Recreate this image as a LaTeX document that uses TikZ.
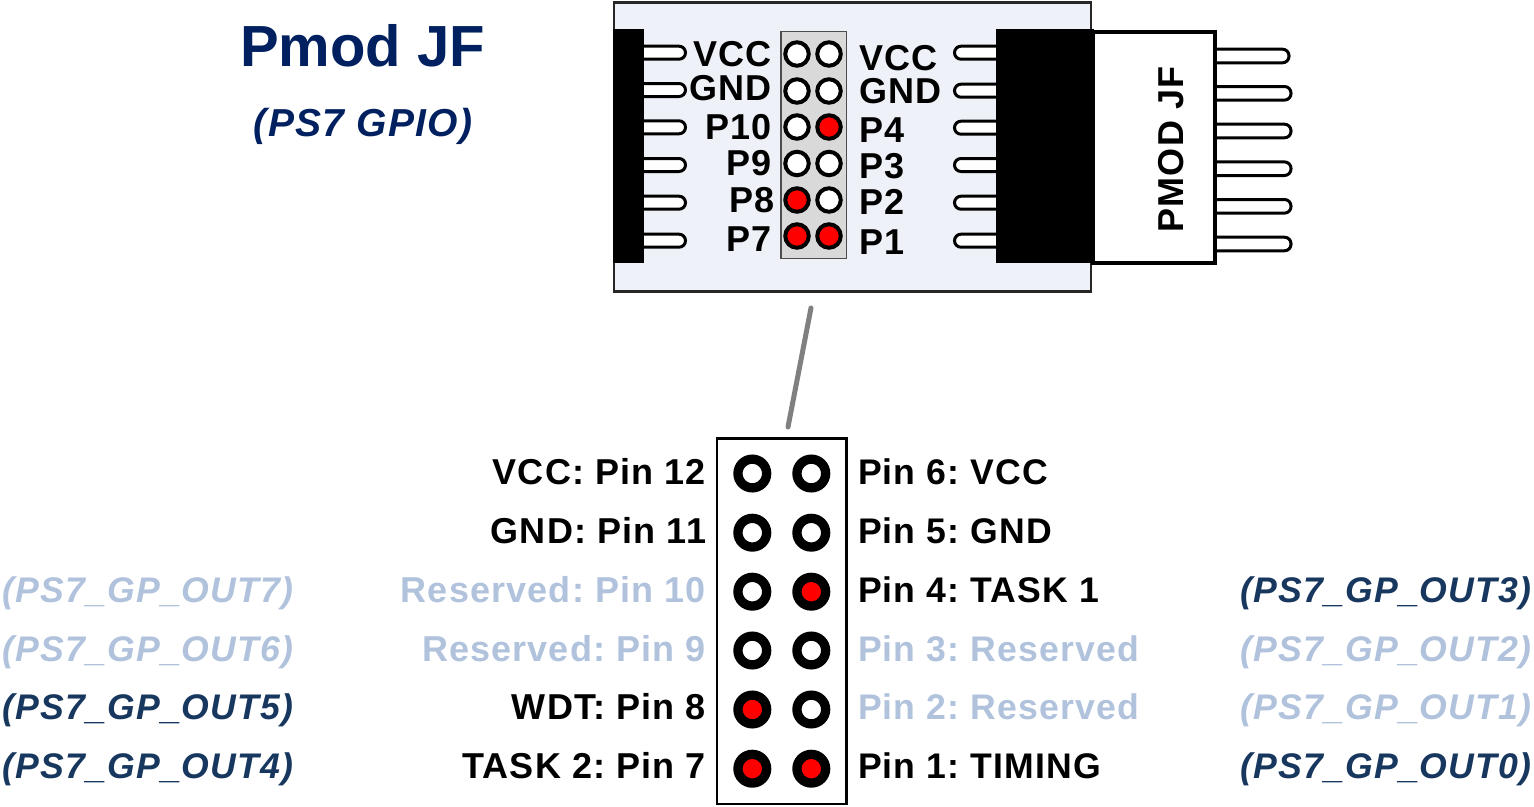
\documentclass[tikz,border=0pt]{standalone}
\usepackage{fontspec}
\setmainfont{Liberation Sans}
\newfontfamily\spaced{Liberation Sans}[LetterSpace=3.2]
\definecolor{navy}{HTML}{002060}
\definecolor{dk}{HTML}{17375E}
\definecolor{lt}{HTML}{B0C2DC}
\definecolor{board}{HTML}{EEF1F7}
\definecolor{hdr}{HTML}{D9D9D9}
\newcommand{\fs}[1]{\fontsize{#1}{#1}\selectfont}
\tikzset{
  x=1pt,y=-1pt,
  base/.style={inner sep=0pt,outer sep=0pt,font=\spaced\frenchspacing\fs{36}\bfseries},
  lbl/.style={base,anchor=base east,text=black},
  lbr/.style={base,anchor=base west,text=black,font=\spaced\frenchspacing\fs{35.6}\bfseries},
  sig/.style={inner sep=0pt,outer sep=0pt,font=\spaced\frenchspacing\fs{35.6}\bfseries\itshape,anchor=base},
  pinleg/.style={draw=black,line width=3pt,fill=white,rounded corners=6.5pt},
  smallpin/.style={circle,draw=black,line width=4pt,minimum size=23.5pt,inner sep=0pt,fill=white},
  smallon/.style={smallpin,fill=red},
  bigpin/.style={circle,draw=black,line width=9.3pt,minimum size=28.7pt,inner sep=0pt,fill=white},
  bigon/.style={bigpin,fill=red},
}
\begin{document}
\begin{tikzpicture}
\useasboundingbox (0,0) rectangle (1534,806);
% board
\node[draw=black!85,line width=2.4pt,fill=board,minimum width=477pt,minimum height=289pt,inner sep=0pt] (board) at (852.5,146.8) {};
% left legs
\foreach \y in {52.7,90,127.3,165,202.7,240.7}{
  \draw[pinleg] (630,\y-6.5) rectangle (685.5,\y+6.5);
}
% right inner legs
\foreach \y in {52.7,90.7,127.7,165,202.7,240.7}{
  \draw[pinleg] (1010,\y-6.5) rectangle (954.5,\y+6.5);
}
% right outer legs
\foreach \y/\xe in {56/1289,93.3/1291,131/1291,168.7/1291,206.3/1291,244/1291}{
  \draw[pinleg] (1200,\y-6.8) rectangle (\xe,\y+6.8);
}
% left connector
\node[fill=black,draw=black,line width=1pt,minimum width=30.6pt,minimum height=233pt,inner sep=0pt] (connL) at (628.5,146.3) {};
% plug
\node[draw=black,fill=white,line width=4pt,minimum width=122pt,minimum height=231pt,inner sep=0pt] (plug) at (1154.3,147.5) {};
\node[fill=black,draw=black,line width=1pt,minimum width=97.3pt,minimum height=233pt,inner sep=0pt] (connR) at (1045.3,146.3) {};
\node[base,rotate=90,text=black] (plugtext) at (1171,149.5) {PMOD JF};
% header
\node[draw=black!70,line width=1.2pt,fill=hdr,minimum width=65.3pt,minimum height=226.8pt,inner sep=0pt] (hdr) at (813.6,144.7) {};
\foreach \n/\x/\y/\s in {a1/797/54/smallpin,a2/829/54/smallpin,b1/797/91/smallpin,b2/829/91/smallpin,c1/797/127/smallpin,c2/829/127/smallon,d1/797/163.5/smallpin,d2/829/163.5/smallpin,e1/797/200/smallon,e2/829/200/smallpin,f1/797/236/smallon,f2/829/236/smallon}{
  \node[\s] (\n) at (\x,\y) {};
}
% small labels
\node[lbl] (lv) at (772,66) {VCC};
\node[lbl] (lg) at (772,100) {GND};
\node[lbl] (l10) at (772,139) {P10};
\node[lbl] (l9) at (772,175) {P9};
\node[lbl] (l8) at (775,212) {P8};
\node[lbl] (l7) at (772,251) {P7};
\node[lbr,font=\spaced\frenchspacing\fs{36}\bfseries] (rv) at (859,70) {VCC};
\node[lbr,font=\spaced\frenchspacing\fs{36}\bfseries] (rg) at (859,103) {GND};
\node[lbr,font=\spaced\frenchspacing\fs{36}\bfseries] (r4) at (859,142) {P4};
\node[lbr,font=\spaced\frenchspacing\fs{36}\bfseries] (r3) at (859,178) {P3};
\node[lbr,font=\spaced\frenchspacing\fs{36}\bfseries] (r2) at (859,214) {P2};
\node[lbr,font=\spaced\frenchspacing\fs{36}\bfseries] (r1) at (859,254) {P1};
% titles
\node[inner sep=0pt,font=\fs{58}\bfseries,text=navy,anchor=base] (title) at (362.5,66) {Pmod JF};
\node[inner sep=0pt,font=\spaced\fs{39}\bfseries\itshape,text=navy,anchor=base] (sub) at (363,136) {(PS7 GPIO)};
% detail box
\node[draw=black,fill=white,line width=2.4pt,minimum width=129.4pt,minimum height=365.3pt,inner sep=0pt] (detail) at (781.9,621.1) {};
\coordinate (ca) at (811,308);
\coordinate (cb) at (788,427);
\draw[line width=5pt,color=black!50,line cap=round] (ca) -- (cb);
\foreach \n/\x/\y/\s in {A1/752.3/473.5/bigpin,A2/811.3/473.5/bigpin,B1/752.3/532.7/bigpin,B2/811.3/532.7/bigpin,C1/752.3/591.7/bigpin,C2/811.3/591.7/bigon,D1/752.3/650.5/bigpin,D2/811.3/650.5/bigpin,E1/752.3/709.5/bigon,E2/811.3/709.5/bigpin,F1/752.3/768.7/bigon,F2/811.3/768.7/bigon}{
  \node[\s] (\n) at (\x,\y) {};
}
% detail labels
\node[lbl] (L1) at (706,484) {VCC: Pin 12};
\node[lbl] (L2) at (706,543) {GND: Pin 11};
\node[lbl,text=lt] (L3) at (706,602) {Reserved: Pin 10};
\node[lbl,text=lt] (L4) at (706,661) {Reserved: Pin 9};
\node[lbl] (L5) at (706,719.5) {WDT: Pin 8};
\node[lbl] (L6) at (706,778.5) {TASK 2: Pin 7};
\node[lbr] (R1) at (858,484) {Pin 6: VCC};
\node[lbr] (R2) at (858,543) {Pin 5: GND};
\node[lbr] (R3) at (858,602) {Pin 4: TASK 1};
\node[lbr,text=lt] (R4) at (858,661) {Pin 3: Reserved};
\node[lbr,text=lt] (R5) at (858,719.5) {Pin 2: Reserved};
\node[lbr] (R6) at (858,778.5) {Pin 1: TIMING};
% signals
\node[sig,text=lt] (S7) at (148,602) {(PS7\_GP\_OUT7)};
\node[sig,text=lt] (S6) at (148,661) {(PS7\_GP\_OUT6)};
\node[sig,text=dk] (S5) at (148,719.5) {(PS7\_GP\_OUT5)};
\node[sig,text=dk] (S4) at (148,778.5) {(PS7\_GP\_OUT4)};
\node[sig,text=dk] (S3) at (1386,602) {(PS7\_GP\_OUT3)};
\node[sig,text=lt] (S2) at (1386,661) {(PS7\_GP\_OUT2)};
\node[sig,text=lt] (S1) at (1386,719.5) {(PS7\_GP\_OUT1)};
\node[sig,text=dk] (S0) at (1386,778.5) {(PS7\_GP\_OUT0)};
\end{tikzpicture}
\end{document}
